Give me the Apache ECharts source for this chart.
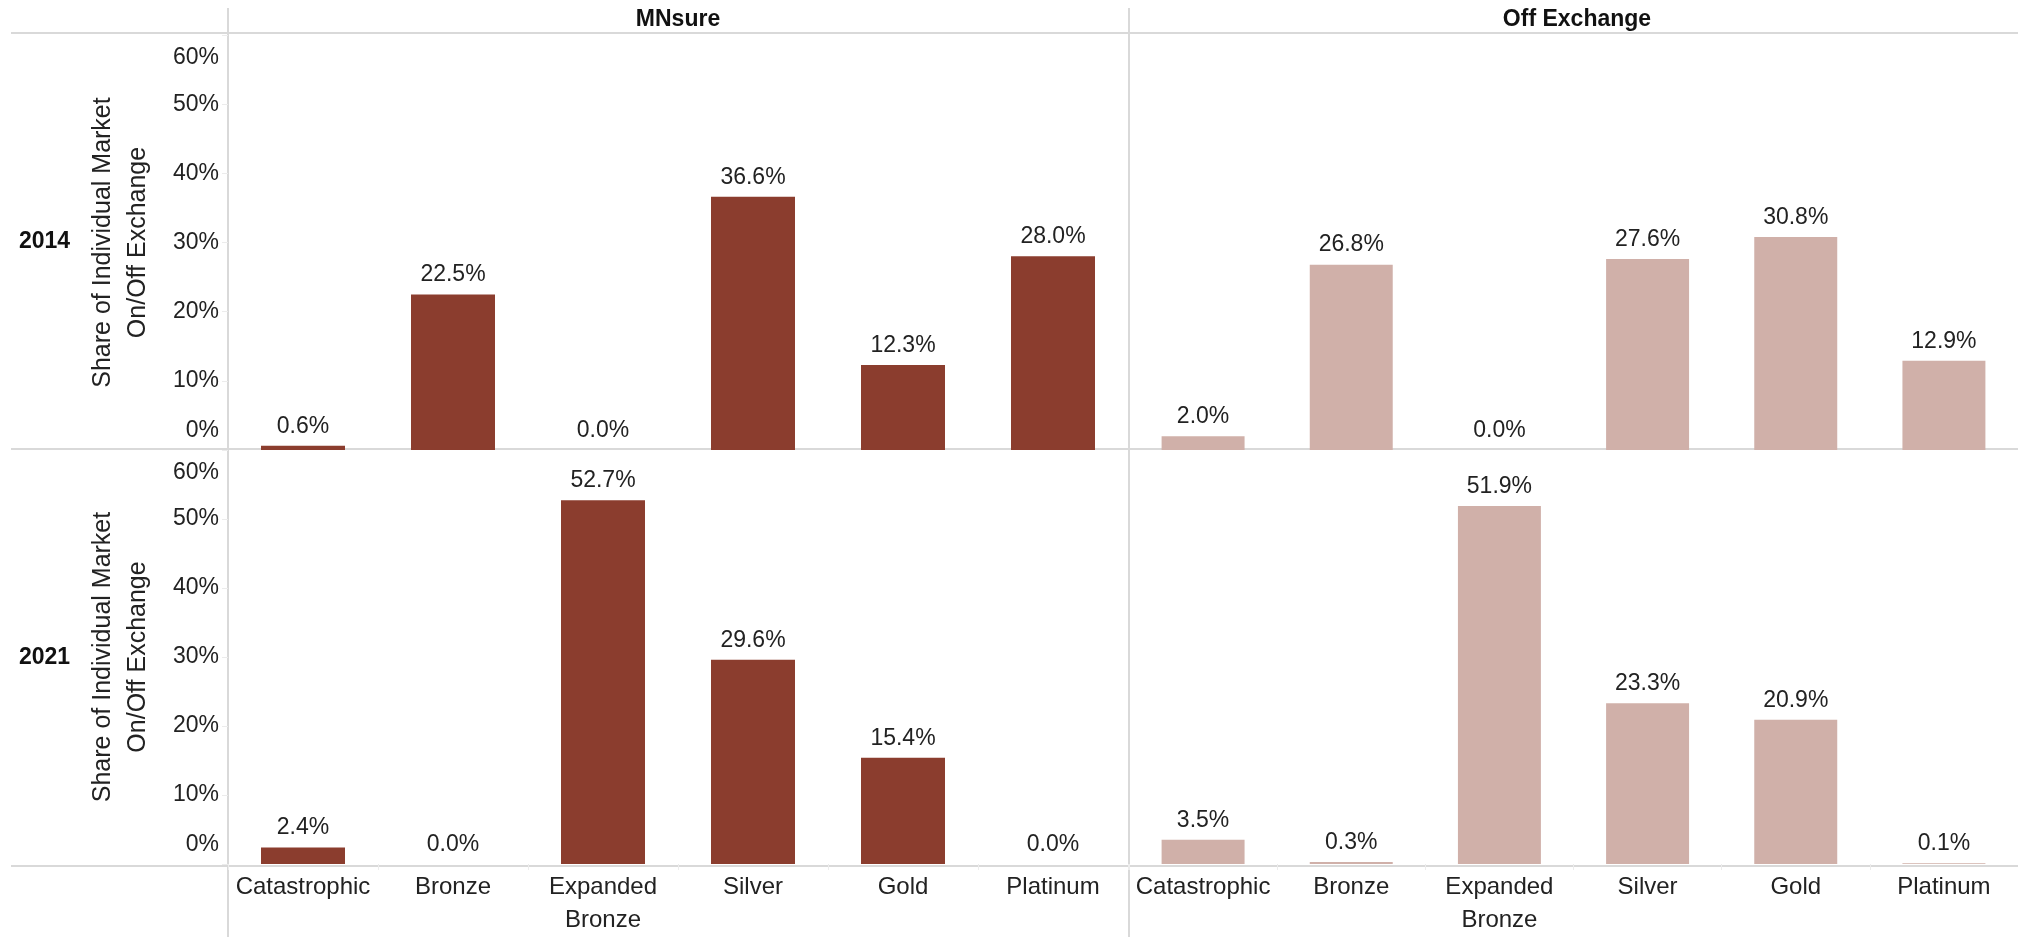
<!DOCTYPE html>
<html>
<head>
<meta charset="utf-8">
<script src="https://cdn.jsdelivr.net/npm/echarts@6/dist/echarts.min.js"></script>
<style>
  html, body { margin: 0; padding: 0; background: #fff; }
  #chart { width: 2018px; height: 937px; }
</style>
</head>
<body>
<div id="chart"></div>
<script>
// ---- data ----
const categories = ['Catastrophic', 'Bronze', 'Expanded\nBronze', 'Silver', 'Gold', 'Platinum'];
const columnHeaders = ['MNsure', 'Off Exchange'];
const rowHeaders = ['2014', '2021'];
const mnsure2014 = [0.6, 22.5, 0.0, 36.6, 12.3, 28.0];
const offExchange2014 = [2.0, 26.8, 0.0, 27.6, 30.8, 12.9];
const mnsure2021 = [2.4, 0.0, 52.7, 29.6, 15.4, 0.0];
const offExchange2021 = [3.5, 0.3, 51.9, 23.3, 20.9, 0.1];
const yTicks = [0, 10, 20, 30, 40, 50, 60];
const yAxisTitle = 'Share of Individual Market\nOn/Off Exchange';

// ---- styling ----
const FONT = "'Liberation Sans', Arial, sans-serif";
const DARK = '#8B3D2E';
const LIGHT = '#D0B0A9';
const LINE = '#d9d9d9';
const TXT = '#222';

const chart = echarts.init(document.getElementById('chart'), null, { renderer: 'canvas' });

const grids = [
  { left: 228, top: 35, width: 900, height: 415 },
  { left: 1129, top: 35, width: 900, height: 415 },
  { left: 228, top: 450, width: 900, height: 416 },
  { left: 1129, top: 450, width: 900, height: 416 }
];

const panelData = [mnsure2014, offExchange2014, mnsure2021, offExchange2021];
const panelColor = [DARK, LIGHT, DARK, LIGHT];

const xAxes = grids.map((g, i) => ({
  type: 'category',
  gridIndex: i,
  data: categories,
  axisLine: { show: false },
  axisTick: {
    show: i >= 2,
    length: 6,
    lineStyle: { color: '#ececec', width: 1 }
  },
  axisLabel: {
    show: i >= 2,
    interval: 0,
    color: TXT,
    fontFamily: FONT,
    fontSize: 24,
    lineHeight: 33,
    margin: 7
  }
}));

const yAxes = grids.map((g, i) => ({
  type: 'value',
  gridIndex: i,
  min: yTicks[0],
  max: yTicks[yTicks.length - 1],
  interval: 10,
  splitLine: { show: false },
  axisLine: { show: false },
  axisTick: {
    show: i % 2 === 0,
    length: 6,
    lineStyle: { color: '#ececec', width: 1 }
  },
  axisLabel: {
    show: i % 2 === 0,
    color: TXT,
    fontFamily: FONT,
    fontSize: 23,
    margin: 9,
    lineHeight: 38,
    padding: [4, 0, 0, 0],
    verticalAlignMinLabel: 'bottom',
    verticalAlignMaxLabel: 'top',
    formatter: v => v + '%'
  },
  name: i % 2 === 0 ? yAxisTitle : '',
  nameLocation: 'middle',
  nameRotate: 90,
  nameGap: 72,
  nameTextStyle: {
    color: TXT,
    fontFamily: FONT,
    fontSize: 25,
    lineHeight: 35
  }
}));

const series = panelData.map((d, i) => ({
  type: 'bar',
  xAxisIndex: i,
  yAxisIndex: i,
  data: d,
  barWidth: '56%',
  itemStyle: { color: panelColor[i] },
  label: {
    show: true,
    position: 'top',
    distance: 8,
    color: TXT,
    fontFamily: FONT,
    fontSize: 23,
    formatter: p => p.value.toFixed(1) + '%'
  },
  silent: true,
  animation: false
}));

const titles = [
  { text: columnHeaders[0], left: 678, top: 8, textAlign: 'center' },
  { text: columnHeaders[1], left: 1577, top: 8, textAlign: 'center' },
  { text: rowHeaders[0], left: 19, top: 230 },
  { text: rowHeaders[1], left: 19, top: 646 }
].map(t => Object.assign({
  padding: 0,
  textStyle: { fontFamily: FONT, fontSize: 23, fontWeight: 'bold', color: '#111' }
}, t));

const line = (x1, y1, x2, y2) => ({
  type: 'line',
  shape: { x1, y1, x2, y2 },
  style: { stroke: LINE, lineWidth: 2 },
  silent: true
});

const option = {
  animation: false,
  backgroundColor: '#fff',
  title: titles,
  grid: grids,
  xAxis: xAxes,
  yAxis: yAxes,
  series: series,
  graphic: [
    line(11, 33, 2018, 33),
    line(11, 449, 2018, 449),
    line(11, 866, 2018, 866),
    line(228, 8, 228, 937),
    line(1129, 8, 1129, 937)
  ]
};

chart.setOption(option);
</script>
</body>
</html>
